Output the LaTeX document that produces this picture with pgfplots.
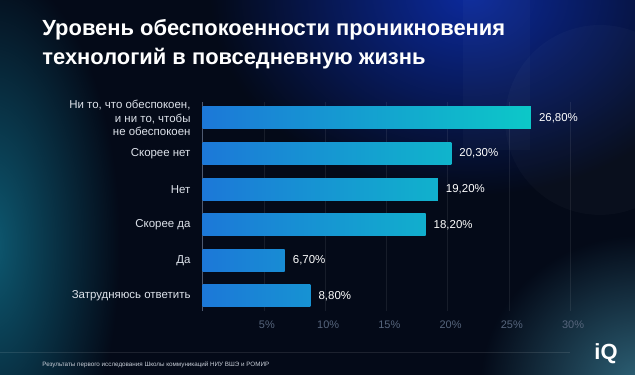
\documentclass[border=0pt]{standalone}
\usepackage{pgfplots}
\pgfplotsset{compat=1.18}
\usepackage{fontspec}
\setmainfont{Liberation Sans}
\usetikzlibrary{fadings}
\tikzfading[name=glowfade, inner color=transparent!0, outer color=transparent!100]
\definecolor{bgc}{HTML}{040A18}
\definecolor{blueglow}{HTML}{0C2A9C}
\definecolor{tealglow}{HTML}{0E5A72}
\definecolor{brglow}{HTML}{2E6378}
\definecolor{barl}{HTML}{1C78D8}
\definecolor{barr}{HTML}{0CC8C8}
\definecolor{labelc}{HTML}{DDE2EA}
\definecolor{tickc}{HTML}{56657C}
\definecolor{axisc}{HTML}{4E5A72}
\definecolor{footc}{HTML}{C8CED8}
\begin{document}
\begin{tikzpicture}[x=1bp,y=1bp]
% background
\fill[bgc] (0,0) rectangle (635,375);
\begin{scope}
\clip (0,0) rectangle (635,375);
\fill[blueglow, path fading=glowfade] (470,380) ellipse (260 and 200);
\fill[tealglow, path fading=glowfade] (-10,130) ellipse (130 and 280);
\fill[brglow, path fading=glowfade] (640,-10) ellipse (160 and 150);
\fill[white, opacity=0.025] (463,225) rectangle (530,375);
\fill[white, opacity=0.025] (600,255) circle (95);
\end{scope}
\draw[white, opacity=0.1, line width=0.5pt] (0,23) -- (570,23);
% title
\node[anchor=north west, align=left, inner sep=0pt, text=white,
      font=\bfseries\fontsize{22}{29.5}\selectfont] at (42,356)
  {Уровень обеспокоенности проникновения\\технологий в повседневную жизнь};
% footer
\node[anchor=west, inner sep=0pt, text=footc, font=\fontsize{6.3}{7}\selectfont]
  at (42,10) {Результаты первого исследования Школы коммуникаций НИУ ВШЭ и РОМИР};
\node[anchor=center, inner sep=0pt, text=white, font=\bfseries\fontsize{22}{22}\selectfont]
  at (606,21) {iQ};
\begin{axis}[
  at={(202.5bp,64bp)}, anchor=south west,
  width=367.5bp, height=209bp, scale only axis,
  xmin=0, xmax=30, ymin=-0.42, ymax=5.45,
  axis x line*=bottom, axis y line*=left,
  x axis line style={draw=none},
  y axis line style={draw=axisc, line width=0.7pt, -},
  major tick length=0pt,
  xtick={5,10,15,20,25,30},
  xticklabel={\pgfmathprintnumber[assume math mode=true]{\tick}\%},
  xticklabel style={text=tickc, font=\fontsize{11}{13}\selectfont, inner sep=0pt, yshift=-10bp, xshift=3bp},
  xmajorgrids,
  major grid style={draw=white, opacity=0.08, line width=0.6pt},
  ytick={0,1,2,3,4,5},
  yticklabels={Затрудняюсь ответить, Да, Скорее да, Нет, Скорее нет, {Ни то, что обеспокоен,\\и ни то, чтобы\\не обеспокоен}},
  yticklabel style={align=right, text=labelc, font=\fontsize{11.5}{13.5}\selectfont, inner sep=0pt, xshift=-12bp},
  xbar, bar width=22bp, bar shift=0pt,
  clip=false,
]
\addplot[draw=none, left color=barl, right color=barr] coordinates {(26.8,5)};
\addplot[draw=none, left color=barl, right color=barr!76!barl] coordinates {(20.3,4)};
\addplot[draw=none, left color=barl, right color=barr!72!barl] coordinates {(19.2,3)};
\addplot[draw=none, left color=barl, right color=barr!68!barl] coordinates {(18.2,2)};
\addplot[draw=none, left color=barl, right color=barr!25!barl] coordinates {(6.7,1)};
\addplot[draw=none, left color=barl, right color=barr!33!barl] coordinates {(8.8,0)};
\addplot[draw=none, fill=none, point meta=x,
  nodes near coords={\pgfmathprintnumber[fixed, fixed zerofill, precision=2, use comma, assume math mode=true]{\pgfplotspointmeta}\%},
  nodes near coords style={anchor=west, inner sep=0pt, xshift=8bp, text=white, font=\fontsize{11.5}{13.5}\selectfont}]
  coordinates {(26.8,5) (20.3,4) (19.2,3) (18.2,2) (6.7,1) (8.8,0)};
\end{axis}
\end{tikzpicture}
\end{document}
